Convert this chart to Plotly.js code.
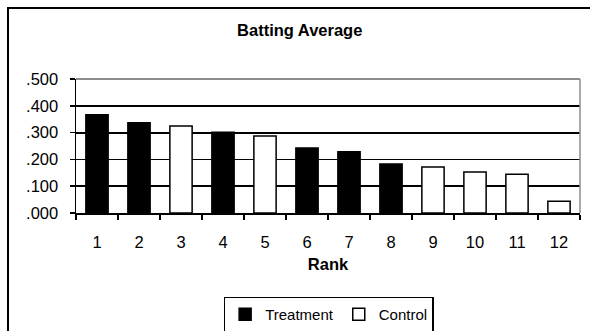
<!DOCTYPE html>
<html>
<head>
<meta charset="utf-8">
<script src="https://cdn.plot.ly/plotly-3.0.1.min.js"></script>
<style>
  html, body { margin: 0; padding: 0; background: #fff; }
  #wrap { position: relative; width: 590px; height: 331px; overflow: hidden; }
  #chart { position: absolute; left: 0; top: 0; width: 590px; height: 331px; }
  #frame { position: absolute; left: 7px; top: 7px; width: 620px; height: 360px;
           border: 2px solid #000; pointer-events: none; box-sizing: border-box; }
</style>
</head>
<body>
<div id="wrap">
  <div id="chart"></div>
  <div id="frame"></div>
</div>
<script>
// Data
const treatmentRanks = ["1", "2", "4", "6", "7", "8"];
const treatmentValues = [0.367, 0.337, 0.301, 0.243, 0.229, 0.183];
const controlRanks = ["3", "5", "9", "10", "11", "12"];
const controlValues = [0.325, 0.287, 0.172, 0.153, 0.145, 0.044];
const rankCategories = ["1","2","3","4","5","6","7","8","9","10","11","12"];
const yTickValues = [0, 0.1, 0.2, 0.3, 0.4, 0.5];
const yTickLabels = [".000", ".100", ".200", ".300", ".400", ".500"];

const FONT = "Liberation Sans, Arial, sans-serif";

const traces = [
  {
    type: "bar", name: "Treatment",
    x: treatmentRanks, y: treatmentValues,
    width: 0.53,
    marker: { color: "#000000", line: { color: "#000000", width: 1.5 } },
    hoverinfo: "skip"
  },
  {
    type: "bar", name: "Control",
    x: controlRanks, y: controlValues,
    width: 0.53,
    marker: { color: "#ffffff", line: { color: "#000000", width: 1.5 } },
    hoverinfo: "skip"
  }
];

const layout = {
  width: 590, height: 331,
  paper_bgcolor: "#ffffff", plot_bgcolor: "#ffffff",
  margin: { l: 76, r: 10, t: 79, b: 118, autoexpand: false },
  font: { family: FONT, size: 16.5, color: "#000" },
  barmode: "overlay",
  showlegend: true,
  title: {
    text: "<b>Batting Average</b>",
    font: { family: FONT, size: 16.5, color: "#000" },
    x: 0.508, xref: "container", xanchor: "center",
    y: 0.909, yref: "container", yanchor: "middle"
  },
  xaxis: {
    type: "category",
    categoryorder: "array", categoryarray: rankCategories,
    range: [-0.5, 11.5],
    automargin: false,
    showline: true, linecolor: "#000", linewidth: 1.5,
    ticks: "outside", tickson: "boundaries", ticklen: 5, tickwidth: 1.5, tickcolor: "#000",
    showgrid: false, zeroline: false,
    tickfont: { family: FONT, size: 16.5, color: "#000" },
    ticklabelstandoff: 14,
    title: { text: "<b>Rank</b>", font: { family: FONT, size: 16.5, color: "#000" }, standoff: 8 },
    fixedrange: true
  },
  yaxis: {
    range: [0, 0.5],
    automargin: false,
    tickvals: yTickValues, ticktext: yTickLabels,
    showline: true, linecolor: "#000", linewidth: 1.5,
    ticks: "outside", ticklen: 5, tickwidth: 1.5, tickcolor: "#000",
    showgrid: true, gridcolor: "#000", gridwidth: 1.8,
    zeroline: false,
    tickfont: { family: FONT, size: 16.5, color: "#000" },
    ticklabelstandoff: 8,
    fixedrange: true
  },
  shapes: [
    { type: "line", xref: "paper", yref: "paper", x0: 0, x1: 1, y0: 1, y1: 1,
      line: { color: "#8c8c8c", width: 1.8 }, layer: "above" },
    { type: "line", xref: "paper", yref: "paper", x0: 1, x1: 1, y0: 0, y1: 1,
      line: { color: "#8c8c8c", width: 1.5 }, layer: "above" }
  ],
  legend: {
    orientation: "h",
    xref: "container", x: 0.557, xanchor: "center",
    yref: "container", y: 0.0498, yanchor: "middle",
    bordercolor: "#000", borderwidth: 1.5,
    font: { family: FONT, size: 15, color: "#000" },
    itemwidth: 30,
    traceorder: "normal"
  }
};

Plotly.newPlot("chart", traces, layout, { displayModeBar: false, staticPlot: true });
</script>
</body>
</html>
